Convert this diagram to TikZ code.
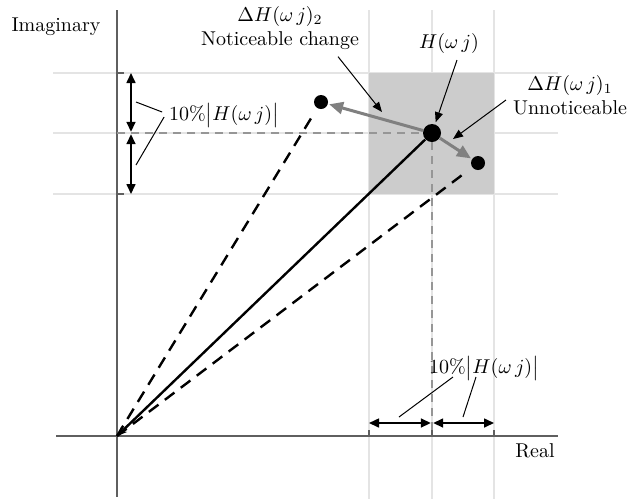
\documentclass[tikz,border=0pt]{standalone}
\usepackage{xcolor}
\usepackage{tikz}
\usetikzlibrary{positioning,arrows.meta}
\definecolor{gridgrey}{RGB}{228,228,228}
\definecolor{boxgrey}{RGB}{204,204,204}
\definecolor{axisgrey}{RGB}{95,95,95}
\definecolor{guidegrey}{RGB}{150,150,150}
\definecolor{changegrey}{RGB}{128,128,128}

\begin{document}
\begin{tikzpicture}[x=0.5pt,y=-0.5pt, every node/.style={font=\normalsize}]
  \tikzstyle{gridline}=[gridgrey, line width=0.7pt]
  \tikzstyle{axisline}=[axisgrey, line width=0.8pt]
  \tikzstyle{guideline}=[guidegrey, line width=0.6pt, dash pattern=on 4pt off 3pt]
  \tikzstyle{ptdot}=[circle, fill=black, inner sep=0pt, minimum size=7pt]
  \tikzstyle{rayline}=[line width=1.2pt, dash pattern=on 6pt off 4pt, shorten >=4pt]
  \tikzstyle{changearrow}=[changegrey, line width=1.5pt, -{Triangle[length=7pt,width=6pt]}, shorten >=0.5pt]
  \tikzstyle{spanarrow}=[line width=0.8pt, {Triangle[length=5pt,width=4.5pt]}-{Triangle[length=5pt,width=4.5pt]}]
  \tikzstyle{callout}=[line width=0.5pt, -{Triangle[length=5pt,width=4pt]}]
  \useasboundingbox (0,0) rectangle (631,499);

  % grid and shaded region
  \foreach \y in {73,133,194} \draw[gridline] (53,\y) -- (558,\y);
  \foreach \x in {369,432,494} \draw[gridline] (\x,10) -- (\x,499);
  \fill[boxgrey] (369,73) rectangle (494,194);

  % axes
  \draw[axisline] (56,436) -- (558,436);
  \draw[axisline] (117,10) -- (117,497);
  \foreach \y in {73,133,194} \draw[axisline] (117,\y) -- (124,\y);
  \foreach \x in {369,432,494} \draw[axisline] (\x,436) -- (\x,430);

  % points
  \coordinate (O) at (117,436);
  \node[ptdot, minimum size=9pt] (H) at (432,133) {};
  \node[ptdot] (p1) at (478,163) {};
  \node[ptdot] (p2) at (321,102) {};

  \draw[guideline] (O |- H) -- (H);
  \draw[guideline] (H) -- (H |- O);

  \draw[line width=1.2pt, {Stealth[length=5pt,width=4pt]}-] (O) -- (H);
  \draw[rayline] (O) -- (p1);
  \draw[rayline] (O) -- (p2);
  \draw[changearrow] (H) -- (p2);
  \draw[changearrow] (H) -- (p1);

  % 10% spans
  \coordinate (vtop) at (131,73);
  \coordinate (vmid) at (131,133);
  \coordinate (vbot) at (131,194);
  \coordinate (hleft) at (369,423);
  \coordinate (hmid) at (432,423);
  \coordinate (hright) at (494,423);
  \draw[spanarrow] (vtop) -- ([yshift=0.6pt]vmid);
  \draw[spanarrow] ([yshift=-0.6pt]vmid) -- (vbot);
  \draw[spanarrow] (hleft) -- ([xshift=-0.6pt]hmid);
  \draw[spanarrow] ([xshift=0.6pt]hmid) -- (hright);

  % labels
  \node (imag) at (56,27) {Imaginary};
  \node (real) at (535,451) {Real};
  \node[align=center] (dh2) at (280,28) {$\Delta H(\omega\,j)_2$\\Noticeable change};
  \node (hl) at (449,43) {$H(\omega\,j)$};
  \node[align=center] (dh1) at (570,95) {$\Delta H(\omega\,j)_1$\\Unnoticeable};
  \node (pctl) at (224,115) {10\%$\bigl|H(\omega\,j)\bigr|$};
  \node (pctb) at (484,368) {10\%$\bigl|H(\omega\,j)\bigr|$};

  \coordinate (d2tip) at (382,112);
  \coordinate (d1tip) at (453,139);
  \draw[callout] ([xshift=29pt]dh2.south) -- (d2tip);
  \draw[callout, shorten >=1pt] ([xshift=4pt]hl.south) -- (H);
  \draw[callout] ([yshift=-2.5pt]dh1.west) -- (d1tip);

  \coordinate (lk1) at (136,102);
  \coordinate (lk2) at (136,165);
  \coordinate (lk3) at (399,417);
  \coordinate (lk4) at (463,417);
  \draw[line width=0.5pt] ([yshift=1.5pt]pctl.west) -- (lk1);
  \draw[line width=0.5pt] ([xshift=1pt,yshift=-1pt]pctl.west) -- (lk2);
  \draw[line width=0.5pt] ([xshift=-15.5pt,yshift=-4.5pt]pctb.center) -- (lk3);
  \draw[line width=0.5pt] ([xshift=-4pt,yshift=-4.5pt]pctb.center) -- (lk4);
\end{tikzpicture}
\end{document}
